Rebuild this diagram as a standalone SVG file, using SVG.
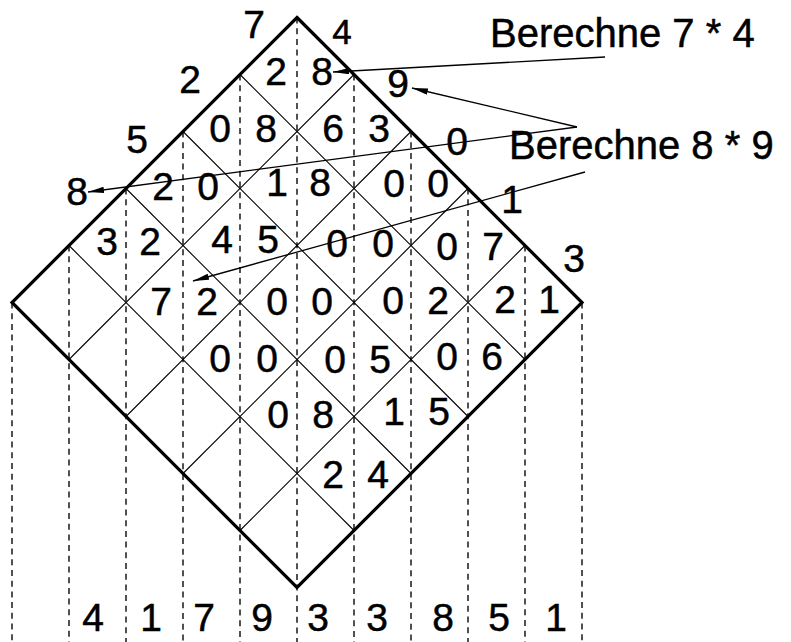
<svg xmlns="http://www.w3.org/2000/svg" width="791" height="642" viewBox="0 0 791 642">
<style>
  text { font-family: "Liberation Sans", Arial, sans-serif; fill: #000; stroke: #000; stroke-width: 0.5; }
  .d { font-size: 39px; text-anchor: middle; }
  .lab { font-size: 40px; }
  .grid { stroke: #000; stroke-width: 1.1; fill: none; }
  .outline { stroke: #000; stroke-width: 3.2; fill: none; stroke-linejoin: miter; }
  .dash { stroke: #333; stroke-width: 1.7; stroke-dasharray: 6 4.7; fill: none; }
  .conn { stroke: #000; stroke-width: 1.3; fill: none; }
</style>
<defs>
  <marker id="ah" markerUnits="userSpaceOnUse" markerWidth="17" markerHeight="8" refX="16" refY="3.2" orient="auto">
    <path d="M0,0 L16,3.2 L0,6.4 z" fill="#000"/>
  </marker>
</defs>
<rect width="791" height="642" fill="#fff"/>

<g id="dashed-columns">
  <line class="dash" x1="12" y1="302.5" x2="12" y2="642"/>
  <line class="dash" x1="69" y1="245.5" x2="69" y2="642"/>
  <line class="dash" x1="126" y1="188.5" x2="126" y2="642"/>
  <line class="dash" x1="183" y1="131.5" x2="183" y2="642"/>
  <line class="dash" x1="240" y1="74.5" x2="240" y2="642"/>
  <line class="dash" x1="297" y1="17.5" x2="297" y2="642"/>
  <line class="dash" x1="354" y1="74.5" x2="354" y2="642"/>
  <line class="dash" x1="411" y1="131.5" x2="411" y2="642"/>
  <line class="dash" x1="468" y1="188.5" x2="468" y2="642"/>
  <line class="dash" x1="525" y1="245.5" x2="525" y2="642"/>
  <line class="dash" x1="582" y1="302.5" x2="582" y2="642"/>
</g>

<g id="grid">
  <line class="grid" x1="240" y1="74.5" x2="525" y2="359.5"/>
  <line class="grid" x1="183" y1="131.5" x2="468" y2="416.5"/>
  <line class="grid" x1="126" y1="188.5" x2="411" y2="473.5"/>
  <line class="grid" x1="69" y1="245.5" x2="354" y2="530.5"/>
  <line class="grid" x1="354" y1="74.5" x2="69" y2="359.5"/>
  <line class="grid" x1="411" y1="131.5" x2="126" y2="416.5"/>
  <line class="grid" x1="468" y1="188.5" x2="183" y2="473.5"/>
  <line class="grid" x1="525" y1="245.5" x2="240" y2="530.5"/>
  <polygon id="diamond" class="outline" points="297,17.5 582,302.5 297,587.5 12,302.5"/>
</g>

<g id="factor-left">
  <text class="d" x="254" y="38">7</text>
  <text class="d" x="190" y="93">2</text>
  <text class="d" x="137" y="153">5</text>
  <text class="d" x="77" y="205">8</text>
</g>
<g id="factor-right">
  <text class="d" x="342" y="44" style="font-size:35px">4</text>
  <text class="d" x="398" y="97">9</text>
  <text class="d" x="457" y="155">0</text>
  <text class="d" x="512" y="213">1</text>
  <text class="d" x="574" y="272">3</text>
</g>

<g id="cell-0-0"><text class="d" x="276" y="85">2</text><text class="d" x="322" y="85">8</text></g>
<g id="cell-1-0"><text class="d" x="220" y="142">0</text><text class="d" x="266" y="142">8</text></g>
<g id="cell-0-1"><text class="d" x="333" y="142">6</text><text class="d" x="379" y="142">3</text></g>
<g id="cell-2-0"><text class="d" x="163" y="200">2</text><text class="d" x="208" y="200">0</text></g>
<g id="cell-1-1"><text class="d" x="277" y="196">1</text><text class="d" x="320" y="196">8</text></g>
<g id="cell-0-2"><text class="d" x="394" y="197">0</text><text class="d" x="438" y="197">0</text></g>
<g id="cell-3-0"><text class="d" x="107" y="255">3</text><text class="d" x="150" y="255">2</text></g>
<g id="cell-2-1"><text class="d" x="222" y="253">4</text><text class="d" x="268" y="253">5</text></g>
<g id="cell-1-2"><text class="d" x="337" y="257">0</text><text class="d" x="383" y="257">0</text></g>
<g id="cell-0-3"><text class="d" x="447" y="260">0</text><text class="d" x="493" y="260">7</text></g>
<g id="cell-3-1"><text class="d" x="161" y="315">7</text><text class="d" x="207" y="315">2</text></g>
<g id="cell-2-2"><text class="d" x="277" y="315">0</text><text class="d" x="322" y="315">0</text></g>
<g id="cell-1-3"><text class="d" x="393" y="314">0</text><text class="d" x="438" y="314">2</text></g>
<g id="cell-0-4"><text class="d" x="505" y="313">2</text><text class="d" x="549" y="313">1</text></g>
<g id="cell-3-2"><text class="d" x="220" y="372">0</text><text class="d" x="267" y="372">0</text></g>
<g id="cell-2-3"><text class="d" x="335" y="373">0</text><text class="d" x="380" y="373">5</text></g>
<g id="cell-1-4"><text class="d" x="447" y="370">0</text><text class="d" x="492" y="370">6</text></g>
<g id="cell-3-3"><text class="d" x="278" y="428">0</text><text class="d" x="323" y="428">8</text></g>
<g id="cell-2-4"><text class="d" x="394" y="425">1</text><text class="d" x="439" y="425">5</text></g>
<g id="cell-3-4"><text class="d" x="333" y="488">2</text><text class="d" x="378" y="488">4</text></g>

<g id="result">
  <text class="d" x="93" y="631">4</text>
  <text class="d" x="151" y="631">1</text>
  <text class="d" x="204" y="631">7</text>
  <text class="d" x="262" y="631">9</text>
  <text class="d" x="318" y="631">3</text>
  <text class="d" x="377" y="631">3</text>
  <text class="d" x="443" y="631">8</text>
  <text class="d" x="499" y="631">5</text>
  <text class="d" x="556" y="631">1</text>
</g>

<g id="label-74"><text class="lab" x="490" y="46.5">Berechne 7 * 4</text></g>
<g id="label-89"><text class="lab" x="509" y="158.5">Berechne 8 * 9</text></g>

<g id="connectors">
  <line class="conn" x1="605" y1="57" x2="333" y2="72" marker-end="url(#ah)"/>
  <line class="conn" x1="577" y1="127" x2="412" y2="88" marker-end="url(#ah)"/>
  <line class="conn" x1="577" y1="127" x2="88" y2="192" marker-end="url(#ah)"/>
  <line class="conn" x1="585" y1="172" x2="193" y2="281" marker-end="url(#ah)"/>
</g>
</svg>
